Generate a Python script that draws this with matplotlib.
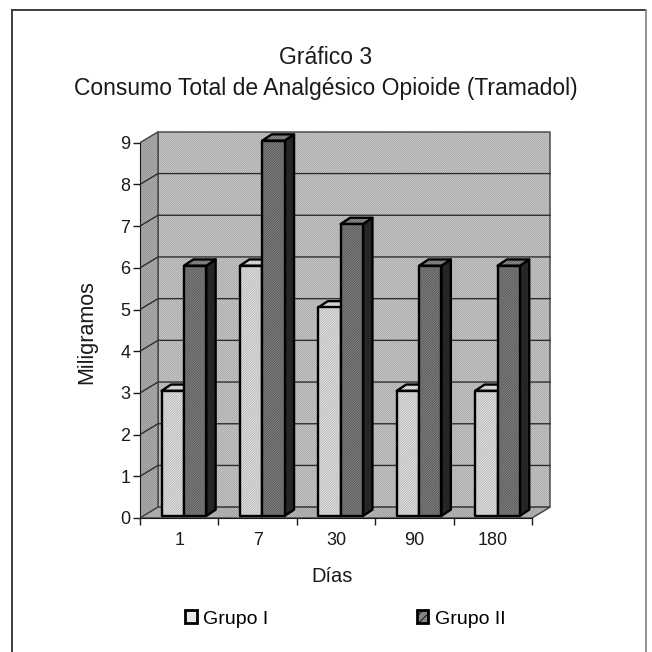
import matplotlib

matplotlib.use("Agg")
import matplotlib.pyplot as plt
from matplotlib.lines import Line2D
from matplotlib.patches import Patch, Polygon

DAYS = ["1", "7", "30", "90", "180"]
GRUPO_I = [3, 6, 5, 3, 3]
GRUPO_II = [6, 9, 7, 6, 6]
SERIES_NAMES = ["Grupo I", "Grupo II"]
Y_TICKS = list(range(0, 10))

TITLE = "Gráfico 3\nConsumo Total de Analgésico Opioide (Tramadol)"

# pseudo-3d geometry, in data units
WALL_DX, WALL_DY = 0.23, 0.26
BAR_DX, BAR_DY = 0.12, 0.15
BAR_Y0 = 0.05
BAR_W = 0.285
BAR_LEFT = [0.275, 0.56]

PALETTE = {
    "wall": "#d6d6d6",
    "wall_hatch": "#a2a2a2",
    "side_wall": "#bdbdbd",
    "floor": "#c8c8c8",
    "grid": "#2e2e2e",
    "g1_front": "#e9e9e9",
    "g1_top": "#f4f4f4",
    "g1_hatch": "#b2b2b2",
    "g2_front": "#868686",
    "g2_top": "#a4a4a4",
    "g2_side": "#343434",
    "g2_hatch": "#555555",
    "ink": "#1a1a1a",
}

plt.rcParams.update(
    {
        "font.family": ["Liberation Sans", "DejaVu Sans"],
        "hatch.linewidth": 0.6,
    }
)

W = H = 652


def fx(px):
    return px / W


def fy(py):
    return 1 - py / H


def shaded(ax, pts, face, hatch_color, hatch, zorder, edge="black", lw=1.7):
    ax.add_patch(Polygon(pts, closed=True, facecolor=face, edgecolor="none", zorder=zorder))
    if hatch:
        ax.add_patch(
            Polygon(pts, closed=True, facecolor="none", edgecolor=hatch_color,
                    hatch=hatch, linewidth=0, zorder=zorder)
        )
    ax.add_patch(
        Polygon(pts, closed=True, facecolor="none", edgecolor=edge, linewidth=lw,
                joinstyle="round", zorder=zorder)
    )


fig = plt.figure(figsize=(6.52, 6.52), dpi=100)

# panel border
for xs, ys, c in [
    ([12, 12], [10, 652], "#2f2f2f"),
    ([12, 646], [10, 10], "#2f2f2f"),
    ([646, 646], [10, 652], "#8a8a8a"),
]:
    fig.add_artist(Line2D([fx(x) for x in xs], [fy(y) for y in ys], color=c, linewidth=1.3))

n = len(DAYS)
ymax = max(Y_TICKS)
px_per_x = 78.4
px_per_y = 41.7
ax_left, ax_right, ax_base, ax_top = 140, 562, 518, 120
ax = fig.add_axes([fx(ax_left), fy(ax_base), fx(ax_right - ax_left), (ax_base - ax_top) / H])
ax.set_xlim(0, (ax_right - ax_left) / px_per_x)
ax.set_ylim(0, (ax_base - ax_top) / px_per_y)
ax.set_facecolor("none")
for s in ["top", "right"]:
    ax.spines[s].set_visible(False)
ax.spines["left"].set_bounds(0, ymax)
ax.spines["bottom"].set_bounds(0, n)
for s in ["left", "bottom"]:
    ax.spines[s].set_color(PALETTE["ink"])
    ax.spines[s].set_zorder(6)

wall_hatch = "\\" * 16

# back wall, left wall, floor
shaded(ax, [(WALL_DX, WALL_DY), (n + WALL_DX, WALL_DY), (n + WALL_DX, ymax + WALL_DY),
            (WALL_DX, ymax + WALL_DY)], PALETTE["wall"], PALETTE["wall_hatch"], wall_hatch, 1,
       edge="#4a4a4a", lw=1.1)
shaded(ax, [(0, 0), (WALL_DX, WALL_DY), (WALL_DX, ymax + WALL_DY), (0, ymax)],
       PALETTE["side_wall"], "#8c8c8c", wall_hatch, 1, edge="#4a4a4a", lw=1.1)
shaded(ax, [(0, 0), (n, 0), (n + WALL_DX, WALL_DY), (WALL_DX, WALL_DY)],
       PALETTE["floor"], "#999999", wall_hatch, 1, edge="#4a4a4a", lw=1.1)

for v in Y_TICKS[1:-1]:
    ax.plot([0, WALL_DX, n + WALL_DX], [v, v + WALL_DY, v + WALL_DY],
            color=PALETTE["grid"], linewidth=1.0, zorder=2)

bar_hatch = "/" * 14
for i in range(n):
    for k, vals in enumerate([GRUPO_I, GRUPO_II]):
        v = vals[i]
        x0 = i + BAR_LEFT[k]
        x1 = x0 + BAR_W
        y0 = BAR_Y0
        y1 = BAR_Y0 + v
        if k == 0:
            front, top, side, hc = PALETTE["g1_front"], PALETTE["g1_top"], PALETTE["g1_front"], PALETTE["g1_hatch"]
        else:
            front, top, side, hc = PALETTE["g2_front"], PALETTE["g2_top"], PALETTE["g2_side"], PALETTE["g2_hatch"]
        z = 3 + k
        shaded(ax, [(x1, y0), (x1 + BAR_DX, y0 + BAR_DY), (x1 + BAR_DX, y1 + BAR_DY), (x1, y1)],
               side, "#181818" if k else hc, bar_hatch, z)
        shaded(ax, [(x0, y1), (x1, y1), (x1 + BAR_DX, y1 + BAR_DY), (x0 + BAR_DX, y1 + BAR_DY)],
               top, hc, bar_hatch, z)
        shaded(ax, [(x0, y0), (x1, y0), (x1, y1), (x0, y1)], front, hc, bar_hatch, z)

ax.set_yticks(Y_TICKS)
ax.set_yticklabels([str(t) for t in Y_TICKS], fontsize=13, color=PALETTE["ink"])
ax.set_xticks(range(n + 1))
ax.set_xticklabels([])
ax.set_xticks([i + 0.5 for i in range(n)], minor=True)
ax.set_xticklabels(DAYS, minor=True, fontsize=13, color=PALETTE["ink"])
ax.tick_params(axis="both", which="major", direction="out", length=5, width=1.0, color=PALETTE["ink"])
ax.tick_params(axis="y", pad=2)
ax.tick_params(axis="x", which="minor", length=0, pad=10)

fig.text(0.5, fy(73), TITLE, ha="center", va="center", fontsize=16.5,
         color=PALETTE["ink"], linespacing=1.45)
fig.text(fx(87), fy(332), "Miligramos", rotation=90, ha="center", va="center",
         fontsize=15.5, color=PALETTE["ink"])
fig.text(fx(332), fy(576), "Días", ha="center", va="center", fontsize=14.5, color=PALETTE["ink"])

handles = [
    Patch(facecolor=PALETTE["g1_front"], edgecolor="black", linewidth=2.0),
    Patch(facecolor=PALETTE["g2_front"], edgecolor="black", linewidth=2.0, hatch="////"),
]
fig.legend(handles, SERIES_NAMES, loc="center left", bbox_to_anchor=(fx(185), fy(619)),
           ncol=2, frameon=False, fontsize=14, handlelength=0.6, handleheight=0.6,
           handletextpad=0.35, columnspacing=7.6, borderaxespad=0, borderpad=0)

fig.savefig("out.png", dpi=100, facecolor="white")
